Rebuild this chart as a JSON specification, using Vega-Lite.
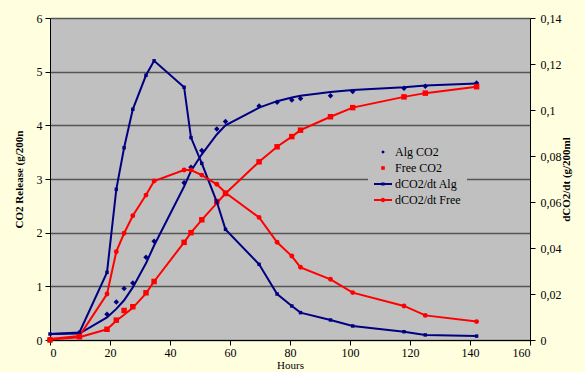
{
  "$schema": "https://vega.github.io/schema/vega-lite/v6.json",
  "width": 480,
  "height": 322,
  "autosize": {"type": "none"},
  "padding": {"left": 50, "top": 18, "right": 55, "bottom": 32},
  "background": "#FFFFE0",
  "config": {
    "view": {"fill": "#C0C0C0", "stroke": null},
    "font": "Liberation Serif",
    "axis": {
      "labelFont": "Liberation Serif", "labelFontSize": 12, "labelColor": "#000",
      "titleFont": "Liberation Serif", "titleColor": "#000",
      "domainColor": "#000", "tickColor": "#000", "tickSize": 5,
      "gridColor": "#555", "gridWidth": 1.5
    },
    "legend": {
      "orient": "none", "legendX": 318, "legendY": 119,
      "fillColor": "#C0C0C0", "padding": 6,
      "labelFont": "Liberation Serif", "labelFontSize": 12, "labelColor": "#000",
      "symbolSize": 324, "rowPadding": 1, "labelOffset": 3, "symbolStrokeWidth": 0
    }
  },
  "data": {"values": [
    {"h": 0, "Alg CO2": 0, "Alg fit": 0.11, "Free CO2": 0, "Free fit": 0.01, "dCO2/dt Alg": 0.0026, "dCO2/dt Free": 0.0004},
    {"h": 9.8, "Alg CO2": 0.12, "Alg fit": 0.12, "Free CO2": 0.06, "Free fit": 0.05, "dCO2/dt Alg": 0.0033, "dCO2/dt Free": 0.0017},
    {"h": 19, "Alg CO2": 0.48, "Alg fit": 0.42, "Free CO2": 0.2, "Free fit": 0.2, "dCO2/dt Alg": 0.0294, "dCO2/dt Free": 0.02},
    {"h": 22.1, "Alg CO2": 0.71, "Alg fit": 0.58, "Free CO2": 0.37, "Free fit": 0.36, "dCO2/dt Alg": 0.0655, "dCO2/dt Free": 0.0384},
    {"h": 24.7, "Alg CO2": 0.96, "Alg fit": 0.74, "Free CO2": 0.55, "Free fit": 0.47, "dCO2/dt Alg": 0.0836, "dCO2/dt Free": 0.0464},
    {"h": 27.6, "Alg CO2": 1.06, "Alg fit": 0.98, "Free CO2": 0.62, "Free fit": 0.6, "dCO2/dt Alg": 0.1003, "dCO2/dt Free": 0.054},
    {"h": 32, "Alg CO2": 1.54, "Alg fit": 1.43, "Free CO2": 0.88, "Free fit": 0.87, "dCO2/dt Alg": 0.1151, "dCO2/dt Free": 0.063},
    {"h": 34.7, "Alg CO2": 1.84, "Alg fit": 1.76, "Free CO2": 1.09, "Free fit": 1.09, "dCO2/dt Alg": 0.1214, "dCO2/dt Free": 0.0691},
    {"h": 44.7, "Alg CO2": 2.93, "Alg fit": 2.86, "Free CO2": 1.82, "Free fit": 1.82, "dCO2/dt Alg": 0.1099, "dCO2/dt Free": 0.0739},
    {"h": 47, "Alg CO2": 3.22, "Alg fit": 3.15, "Free CO2": 2.0, "Free fit": 2.0, "dCO2/dt Alg": 0.088, "dCO2/dt Free": 0.0739},
    {"h": 50.6, "Alg CO2": 3.53, "Alg fit": 3.46, "Free CO2": 2.24, "Free fit": 2.24, "dCO2/dt Alg": 0.0768, "dCO2/dt Free": 0.0717},
    {"h": 55.6, "Alg CO2": 3.93, "Alg fit": 3.83, "Free CO2": 2.58, "Free fit": 2.55, "dCO2/dt Alg": 0.0601, "dCO2/dt Free": 0.0677},
    {"h": 58.5, "Alg CO2": 4.07, "Alg fit": 4.0, "Free CO2": 2.73, "Free fit": 2.73, "dCO2/dt Alg": 0.0481, "dCO2/dt Free": 0.064},
    {"h": 69.7, "Alg CO2": 4.36, "Alg fit": 4.33, "Free CO2": 3.32, "Free fit": 3.32, "dCO2/dt Alg": 0.0329, "dCO2/dt Free": 0.0533},
    {"h": 75.7, "Alg CO2": 4.43, "Alg fit": 4.45, "Free CO2": 3.6, "Free fit": 3.6, "dCO2/dt Alg": 0.02, "dCO2/dt Free": 0.0425},
    {"h": 80.6, "Alg CO2": 4.47, "Alg fit": 4.52, "Free CO2": 3.79, "Free fit": 3.79, "dCO2/dt Alg": 0.0148, "dCO2/dt Free": 0.0365},
    {"h": 83.5, "Alg CO2": 4.5, "Alg fit": 4.55, "Free CO2": 3.91, "Free fit": 3.91, "dCO2/dt Alg": 0.0119, "dCO2/dt Free": 0.0316},
    {"h": 93.5, "Alg CO2": 4.55, "Alg fit": 4.62, "Free CO2": 4.16, "Free fit": 4.16, "dCO2/dt Alg": 0.0087, "dCO2/dt Free": 0.0264},
    {"h": 100.9, "Alg CO2": 4.63, "Alg fit": 4.66, "Free CO2": 4.33, "Free fit": 4.33, "dCO2/dt Alg": 0.0061, "dCO2/dt Free": 0.0206},
    {"h": 118, "Alg CO2": 4.69, "Alg fit": 4.71, "Free CO2": 4.53, "Free fit": 4.53, "dCO2/dt Alg": 0.0036, "dCO2/dt Free": 0.0148},
    {"h": 125.1, "Alg CO2": 4.73, "Alg fit": 4.74, "Free CO2": 4.6, "Free fit": 4.6, "dCO2/dt Alg": 0.0022, "dCO2/dt Free": 0.0107},
    {"h": 142.2, "Alg CO2": 4.79, "Alg fit": 4.78, "Free CO2": 4.72, "Free fit": 4.72, "dCO2/dt Alg": 0.0017, "dCO2/dt Free": 0.008}
  ]},
  "layer": [
    {
      "encoding": {
        "x": {"field": "h", "type": "quantitative", "scale": {"domain": [0, 160], "nice": false},
              "axis": {"values": [0, 20, 40, 60, 80, 100, 120, 140, 160], "grid": false, "labelFont": "Liberation Serif", "title": "Hours", "titleFontSize": 11, "titleFontWeight": "normal", "labelPadding": 2, "titlePadding": 1}},
        "y": {"field": "v", "type": "quantitative", "scale": {"domain": [0, 6], "nice": false},
              "axis": {"values": [0, 1, 2, 3, 4, 5, 6], "grid": true, "labelFont": "Liberation Serif", "title": "CO2 Release (g/200n", "titleFontSize": 11, "titleFontWeight": "bold", "labelPadding": 3, "titlePadding": 12}}
      },
      "layer": [
        {
          "transform": [{"fold": ["Alg fit"], "as": ["series", "v"]}],
          "mark": {"type": "line", "color": "#000080", "strokeWidth": 2}
        },
        {
          "transform": [{"fold": ["Free fit"], "as": ["series", "v"]}],
          "mark": {"type": "line", "color": "#FF0000", "strokeWidth": 2}
        },
        {
          "transform": [{"fold": ["Alg CO2", "Free CO2"], "as": ["series", "v"]}],
          "mark": {"type": "point", "filled": true, "opacity": 1, "size": 750},
          "encoding": {
            "color": {"field": "series", "type": "nominal",
              "scale": {"domain": ["Alg CO2", "Free CO2", "dCO2/dt Alg", "dCO2/dt Free"], "range": ["#000080", "#FF0000", "#000080", "#FF0000"]},
              "legend": {"title": null, "encode": {"symbols": {"update": {"fill": {"signal": "scale('color', datum.value)"}, "stroke": {"value": "transparent"}, "opacity": {"value": 1}}}}}},
            "shape": {"field": "series", "type": "nominal",
              "scale": {"domain": ["Alg CO2", "Free CO2", "dCO2/dt Alg", "dCO2/dt Free"],
                "range": [
                  "M0,-0.2L0.2,0L0,0.2L-0.2,0Z",
                  "M-0.2,-0.2L0.2,-0.2L0.2,0.2L-0.2,0.2Z",
                  "M-1,-0.1L1,-0.1L1,0.1L-1,0.1Z M-0.18,-0.18L0.18,-0.18L0.18,0.18L-0.18,0.18Z",
                  "M-1,-0.1L1,-0.1L1,0.1L-1,0.1Z M-0.25,0A0.25,0.25 0 1,1 0.25,0A0.25,0.25 0 1,1 -0.25,0Z"
                ]},
              "legend": {"title": null}}
          }
        }
      ]
    },
    {
      "encoding": {
        "x": {"field": "h", "type": "quantitative", "scale": {"domain": [0, 160], "nice": false},
              "axis": {"values": [0, 20, 40, 60, 80, 100, 120, 140, 160], "grid": false, "labelFont": "Liberation Serif", "title": "Hours", "titleFontSize": 11, "titleFontWeight": "normal", "labelPadding": 2, "titlePadding": 1}},
        "y": {"field": "v", "type": "quantitative", "scale": {"domain": [0, 0.14], "nice": false},
              "axis": {"orient": "right", "values": [0, 0.02, 0.04, 0.06, 0.08, 0.1, 0.12, 0.14], "grid": false, "labelFont": "Liberation Serif",
                "labelExpr": "replace(format(datum.value, '~g'), '.', ',')",
                "title": "dCO2/dt (g/200ml", "titleAngle": 270, "titleFontSize": 11, "titleFontWeight": "bold", "labelPadding": 5, "titlePadding": 10}},
        "color": {"field": "series", "type": "nominal",
          "scale": {"domain": ["Alg CO2", "Free CO2", "dCO2/dt Alg", "dCO2/dt Free"], "range": ["#000080", "#FF0000", "#000080", "#FF0000"]},
          "legend": {"title": null}}
      },
      "transform": [{"fold": ["dCO2/dt Alg", "dCO2/dt Free"], "as": ["series", "v"]}],
      "layer": [
        {"mark": {"type": "line", "strokeWidth": 2}},
        {
          "mark": {"type": "point", "filled": true, "opacity": 1},
          "encoding": {
            "shape": {"condition": {"test": "datum.series === 'dCO2/dt Alg'", "value": "square"}, "value": "circle"},
            "size": {"condition": {"test": "datum.series === 'dCO2/dt Alg'", "value": 12}, "value": 24}
          }
        }
      ]
    }
  ],
  "resolve": {"scale": {"y": "independent"}}
}
